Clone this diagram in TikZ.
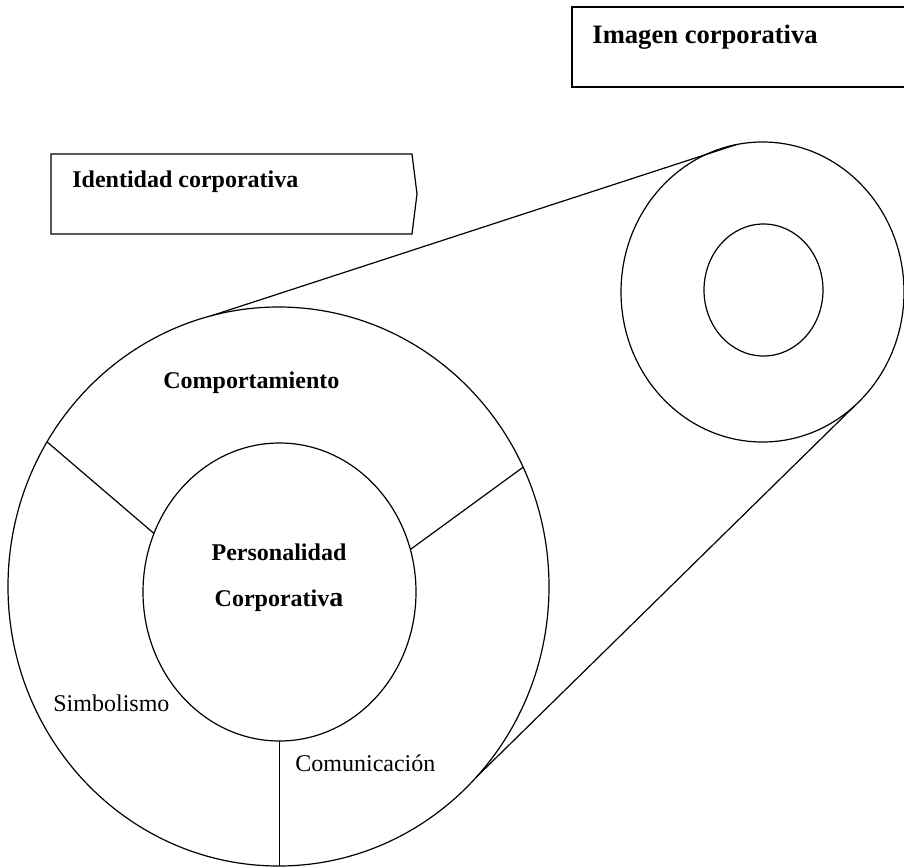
\documentclass[tikz,border=0pt]{standalone}
\usepackage{fontspec}
\setmainfont{Liberation Serif}
\usetikzlibrary{shapes.geometric}
\tikzset{%
  myline/.style={line width=0.6pt},
  myring/.style={ellipse, draw=black, line width=0.6pt, inner sep=0pt, outer sep=0pt},
  mylabel/.style={inner sep=0pt, anchor=base west, font=\fontsize{12}{14}\selectfont},
  myhead/.style={mylabel, font=\fontsize{12}{14}\selectfont\bfseries}
}

\begin{document}
\begin{tikzpicture}[x=0.5pt, y=-0.5pt]
  \useasboundingbox (0,0) rectangle (904,867);
  \node[myring, minimum width=270.5pt, minimum height=279.5pt] (big) at (278.5,586.5) {};
  \node[myring, minimum width=136.5pt, minimum height=149pt] (inner) at (279.5,592) {};
  \node[myring, minimum width=141.5pt, minimum height=150pt] (far) at (762.5,292) {};
  \node[myring, minimum width=59.5pt, minimum height=66pt] (core) at (763.5,290) {};
  \node[myhead] (comp) at (163,388) {Comportamiento};
  \node[myhead, anchor=base] (pers) at (279,560) {Personalidad};
  \node[myhead, anchor=base] (corp) at (279,606) {Corporativ{\fontsize{14}{16}\selectfont a}};
  \node[mylabel] (simb) at (53,711) {Simbolismo};
  \node[mylabel] (comu) at (295,771) {Comunicación};
  \node[myhead] (ident) at (72,187) {Identidad corporativa};
  \node[myhead, font=\fontsize{13.3}{16}\selectfont\bfseries] (imag) at (592,43) {Imagen corporativa};
  \draw [myline] (51,154) -- (412,154) -- (417,194) -- (412,234) -- (51,234) -- cycle;
  \draw [myline] (904,7) -- (572,7) -- (572,87) -- (904,87);
  \draw [myline] (inner.155) -- (big.148);
  \draw [myline] (inner.18) -- (big.26);
  \draw [myline] (inner.south) -- (inner.south |- big.south);
  \draw [myline] (big.104) -- (far.100);
  \draw [myline] (big.-44) -- (far.-51);
\end{tikzpicture}
\end{document}
